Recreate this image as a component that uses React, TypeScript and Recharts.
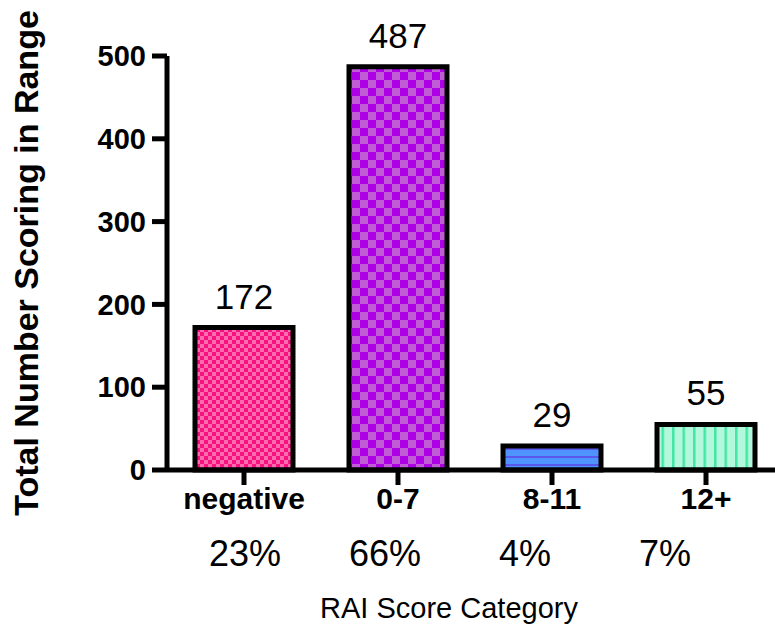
import { BarChart, Bar, XAxis, YAxis, Cell, LabelList } from "recharts";

// RAI score categories and how many scored in each
const categories = ["negative", "0-7", "8-11", "12+"];
const counts = [172, 487, 29, 55];
const percents = ["23%", "66%", "4%", "7%"];
const yTicks = [0, 100, 200, 300, 400, 500];

const FONT = "'Liberation Sans', Arial, Helvetica, sans-serif";

const data = categories.map((category, i) => ({
  category,
  count: counts[i],
  pct: percents[i],
}));

// pattern fills, one per bar (GraphPad-like)
function Patterns() {
  return (
    <defs>
      <pattern id="pat-0" width={8} height={8} patternUnits="userSpaceOnUse">
        <rect width={8} height={8} fill="#F7137F" />
        <rect x={0} y={0} width={4} height={4} fill="#FF6BAE" />
        <rect x={4} y={4} width={4} height={4} fill="#FF6BAE" />
      </pattern>
      <pattern id="pat-1" width={16} height={16} patternUnits="userSpaceOnUse">
        <rect width={16} height={16} fill="#AE00E6" />
        <rect x={0} y={0} width={8} height={8} fill="#C05CD4" />
        <rect x={8} y={8} width={8} height={8} fill="#C05CD4" />
      </pattern>
      <pattern id="pat-2" width={10} height={8} patternUnits="userSpaceOnUse">
        <rect width={10} height={8} fill="#4F93FF" />
        <rect x={0} y={0} width={10} height={2} fill="#5A58EC" />
      </pattern>
      <pattern id="pat-3" width={10.5} height={10} patternUnits="userSpaceOnUse">
        <rect width={10.5} height={10} fill="#B3F7DD" />
        <rect x={0} y={0} width={2.5} height={10} fill="#44E6A3" />
      </pattern>
    </defs>
  );
}

export default function App() {
  return (
    <div
      style={{
        position: "absolute",
        left: 0,
        top: 0,
        width: 775,
        height: 629,
        overflow: "hidden",
        background: "#fff",
      }}
    >
      <BarChart
        width={800}
        height={629}
        data={data}
        margin={{ top: 56, right: 17, left: 0, bottom: 0 }}
      >
        <Patterns />
        <XAxis
          xAxisId="main"
          dataKey="category"
          height={50}
          interval={0}
          tickSize={15}
          tickMargin={3}
          axisLine={{ stroke: "#000", strokeWidth: 5 }}
          tickLine={{ stroke: "#000", strokeWidth: 5 }}
          tick={{ fill: "#000", fontSize: 30, fontWeight: "bold", fontFamily: FONT }}
        />
        <XAxis
          xAxisId="pct"
          dataKey="pct"
          height={109}
          interval={0}
          padding={{ left: 8, right: 48 }}
          axisLine={false}
          tickLine={false}
          tickSize={0}
          tickMargin={20}
          tick={{ fill: "#000", fontSize: 36, fontFamily: FONT }}
          label={{
            value: "RAI Score Category",
            position: "insideBottom",
            offset: 11,
            dx: -26,
            fill: "#000",
            fontSize: 29,
            fontFamily: FONT,
          }}
        />
        <YAxis
          width={167}
          domain={[0, 500]}
          ticks={yTicks}
          interval={0}
          tickSize={15}
          tickMargin={6}
          axisLine={{ stroke: "#000", strokeWidth: 5 }}
          tickLine={{ stroke: "#000", strokeWidth: 5 }}
          tick={{ fill: "#000", fontSize: 29, fontWeight: "bold", fontFamily: FONT }}
          label={{
            value: "Total Number Scoring in Range",
            angle: -90,
            position: "center",
            dx: -58,
            fill: "#000",
            fontSize: 34,
            fontWeight: "bold",
            fontFamily: FONT,
          }}
        />
        <Bar
          xAxisId="main"
          dataKey="count"
          barSize={98}
          stroke="#000"
          strokeWidth={5}
          isAnimationActive={false}
        >
          {data.map((d, i) => (
            <Cell key={d.category} fill={`url(#pat-${i})`} />
          ))}
          <LabelList
            dataKey="count"
            position="top"
            offset={19}
            fill="#000"
            fontSize={35}
            fontFamily={FONT}
          />
        </Bar>
      </BarChart>
    </div>
  );
}
